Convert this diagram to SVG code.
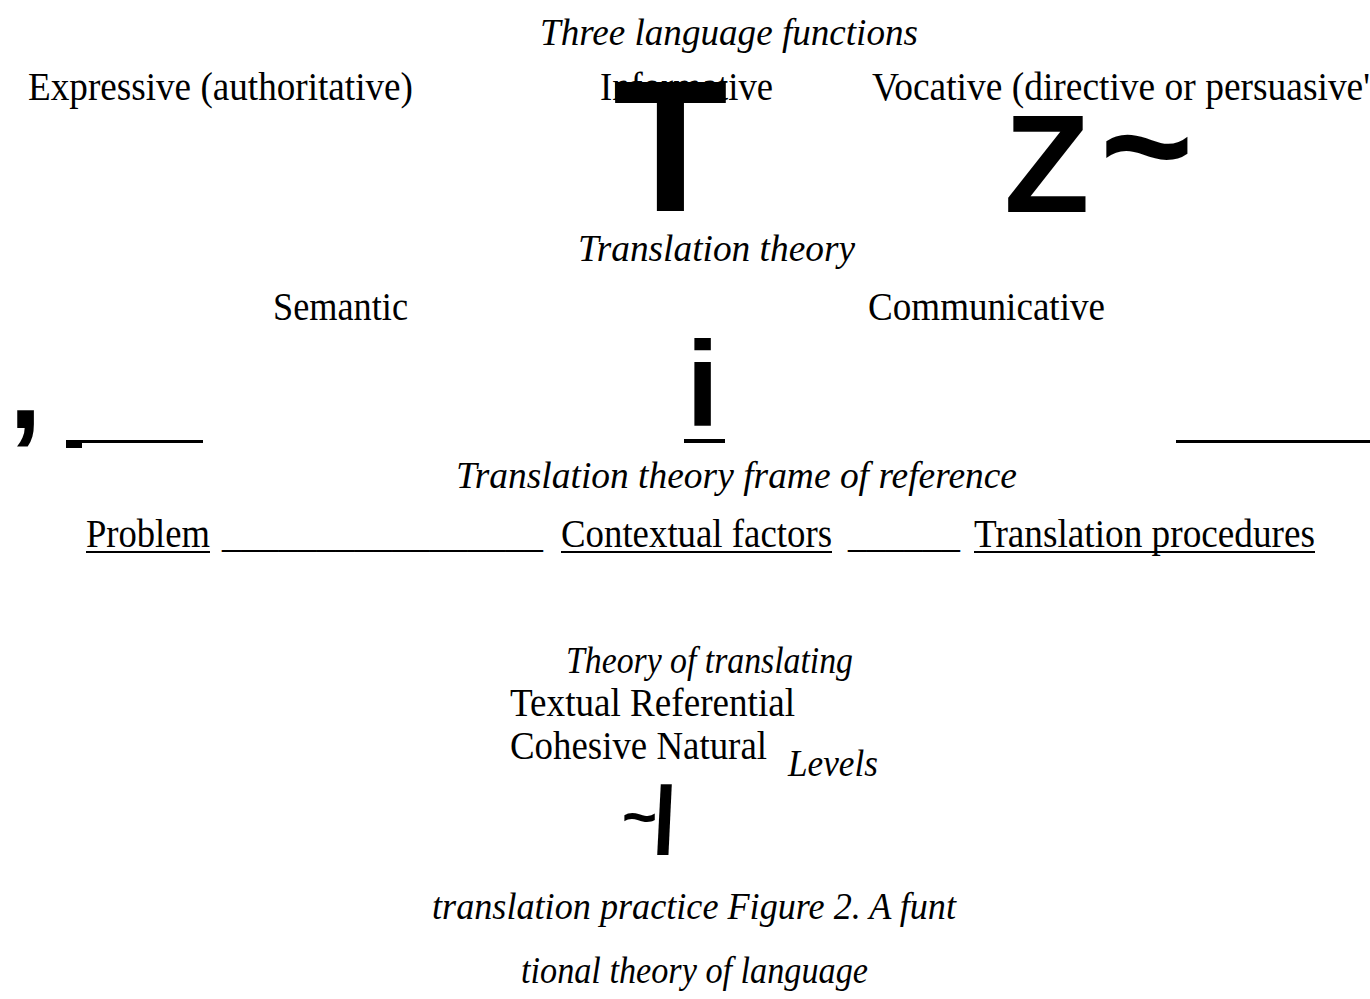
<svg xmlns="http://www.w3.org/2000/svg" width="1370" height="999" viewBox="0 0 1370 999">
<style>
.t{font-family:"Liberation Serif","Times New Roman",serif;font-size:39px;fill:#000}
.i{font-family:"Liberation Serif","Times New Roman",serif;font-size:38px;font-style:italic;fill:#000}
.b{font-family:"Liberation Sans",Arial,sans-serif;font-weight:bold;fill:#000}
.rule{fill:#000}
</style>
<rect width="1370" height="999" fill="#fff"/>
<g id="title-functions">
<text class="i" x="540" y="45" textLength="378" lengthAdjust="spacingAndGlyphs">Three language functions</text>
</g>
<g id="node-expressive">
<text class="t" x="28" y="100" textLength="385" lengthAdjust="spacingAndGlyphs">Expressive (authoritative)</text>
</g>
<g id="node-informative">
<text class="t" x="600" y="100" textLength="173" lengthAdjust="spacingAndGlyphs">Informative</text>
</g>
<g id="node-vocative">
<text class="t" x="872" y="100" textLength="498" lengthAdjust="spacingAndGlyphs">Vocative (directive or persuasive'</text>
</g>
<g id="connectors">
<text class="b" x="613" y="211" font-size="188">T</text>
<text class="b" x="1004" y="212" font-size="140">Z</text>
<text class="b" x="1100" y="200" font-size="160">~</text>
<text class="b" x="9" y="428" font-size="118">,</text>
<rect class="rule" x="66" y="441" width="16" height="7"/>
<rect class="rule" x="66" y="440" width="137" height="3"/>
<text class="b" x="686" y="426" font-size="120">i</text>
<rect class="rule" x="684" y="439" width="41" height="4"/>
<rect class="rule" x="1176" y="440" width="194" height="3"/>
<text class="b" x="622" y="837" font-size="60">~</text>
<text class="b" font-size="95" transform="translate(656,853) skewX(8)">/</text>
</g>
<g id="title-theory">
<text class="i" x="578" y="261" textLength="277" lengthAdjust="spacingAndGlyphs">Translation theory</text>
</g>
<g id="node-semantic">
<text class="t" x="273" y="320" textLength="135" lengthAdjust="spacingAndGlyphs">Semantic</text>
</g>
<g id="node-communicative">
<text class="t" x="868" y="320" textLength="237" lengthAdjust="spacingAndGlyphs">Communicative</text>
</g>
<g id="title-frame">
<text class="i" x="456" y="488" textLength="561" lengthAdjust="spacingAndGlyphs">Translation theory frame of reference</text>
</g>
<g id="node-problem">
<text class="t" x="86" y="547" textLength="124" lengthAdjust="spacingAndGlyphs">Problem</text>
<rect class="rule" x="86" y="551" width="124" height="2"/>
</g>
<g id="blank-1">
<text class="t" x="222" y="547" textLength="321" lengthAdjust="spacingAndGlyphs">_________________</text>
</g>
<g id="node-contextual">
<text class="t" x="561" y="547" textLength="271" lengthAdjust="spacingAndGlyphs">Contextual factors</text>
<rect class="rule" x="561" y="551" width="271" height="2"/>
</g>
<g id="blank-2">
<text class="t" x="848" y="547" textLength="112" lengthAdjust="spacingAndGlyphs">______</text>
</g>
<g id="node-procedures">
<text class="t" x="974" y="547" textLength="341" lengthAdjust="spacingAndGlyphs">Translation procedures</text>
<rect class="rule" x="974" y="551" width="341" height="2"/>
</g>
<g id="node-translating">
<text class="i" x="566" y="673" font-size="36" textLength="287" lengthAdjust="spacingAndGlyphs">Theory of translating</text>
<text class="t" x="510" y="716" textLength="285" lengthAdjust="spacingAndGlyphs">Textual Referential</text>
<text class="t" x="510" y="759" textLength="257" lengthAdjust="spacingAndGlyphs">Cohesive Natural</text>
<text class="i" x="788" y="776" font-size="36" textLength="90" lengthAdjust="spacingAndGlyphs">Levels</text>
</g>
<g id="caption">
<text class="i" x="432" y="919" textLength="524" lengthAdjust="spacingAndGlyphs">translation practice Figure 2. A funt</text>
<text class="i" x="521" y="983" textLength="347" lengthAdjust="spacingAndGlyphs">tional theory of language</text>
</g>
</svg>
